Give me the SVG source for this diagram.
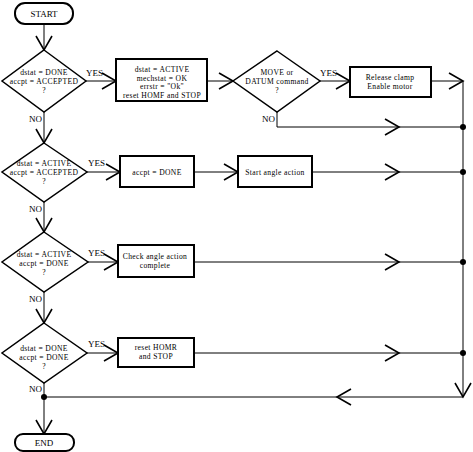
<svg xmlns="http://www.w3.org/2000/svg" width="473" height="452" viewBox="0 0 473 452">
<defs>
<style>
.t{font-family:"Liberation Serif","DejaVu Serif",serif;font-size:9px;fill:#000;text-anchor:middle}
.s{font-size:7.6px;letter-spacing:0.35px}
.l{font-family:"Liberation Serif","DejaVu Serif",serif;font-size:9px;fill:#000}
.box{fill:#fff;stroke:#000;stroke-width:2}
.dia{fill:#fff;stroke:#000;stroke-width:1.5}
.c{fill:none;stroke:#000;stroke-width:1}
.ah{fill:none;stroke:#000;stroke-width:1.6}
.dot{fill:#000}
</style>
<path id="ar" d="M-14,-8 L0,0 L-14,8"/>
</defs>
<rect width="473" height="452" fill="#fff"/>
<g id="connectors">
<path class="c" d="M44,24 V50"/>
<path class="c" d="M44,112 V143"/>
<path class="c" d="M44,202 V232"/>
<path class="c" d="M44,292 V323"/>
<path class="c" d="M44,383 V434"/>
<path class="c" d="M86,81 H116"/>
<path class="c" d="M207,81 H233"/>
<path class="c" d="M320,81 H350"/>
<path class="c" d="M431,81 H463 V397 H44"/>
<path class="c" d="M277,112 V127 H463"/>
<path class="c" d="M87,172 H120"/>
<path class="c" d="M194,172 H238"/>
<path class="c" d="M312,172 H463"/>
<path class="c" d="M88,262 H118"/>
<path class="c" d="M194,262 H463"/>
<path class="c" d="M87,353 H118"/>
<path class="c" d="M194,353 H463"/>
<g class="ah">
<use href="#ar" transform="translate(44,50) rotate(90)"/>
<use href="#ar" transform="translate(44,143) rotate(90)"/>
<use href="#ar" transform="translate(44,232) rotate(90)"/>
<use href="#ar" transform="translate(44,323) rotate(90)"/>
<use href="#ar" transform="translate(44,434) rotate(90)"/>
<use href="#ar" transform="translate(116,81)"/>
<use href="#ar" transform="translate(233,81)"/>
<use href="#ar" transform="translate(350,81)"/>
<use href="#ar" transform="translate(463,81)"/>
<use href="#ar" transform="translate(399,127)"/>
<use href="#ar" transform="translate(120,172)"/>
<use href="#ar" transform="translate(238,172)"/>
<use href="#ar" transform="translate(399,172)"/>
<use href="#ar" transform="translate(118,262)"/>
<use href="#ar" transform="translate(399,262)"/>
<use href="#ar" transform="translate(118,353)"/>
<use href="#ar" transform="translate(399,353)"/>
<use href="#ar" transform="translate(463,397) rotate(90)"/>
<use href="#ar" transform="translate(337,397) rotate(180)"/>
</g>
<circle class="dot" cx="463" cy="127" r="3"/>
<circle class="dot" cx="463" cy="172" r="3"/>
<circle class="dot" cx="463" cy="262" r="3"/>
<circle class="dot" cx="463" cy="353" r="3"/>
<circle class="dot" cx="44" cy="397" r="3"/>
<text class="l" x="86" y="76">YES</text>
<text class="l" x="320" y="76">YES</text>
<text class="l" x="88" y="166">YES</text>
<text class="l" x="88" y="256">YES</text>
<text class="l" x="88" y="347">YES</text>
<text class="l" x="29" y="122">NO</text>
<text class="l" x="262" y="122">NO</text>
<text class="l" x="29" y="212">NO</text>
<text class="l" x="29" y="302">NO</text>
<text class="l" x="29" y="392">NO</text>
</g>
<g id="start">
<rect class="box" x="15" y="3" width="58" height="21" rx="10"/>
<text class="t" x="44" y="17">START</text>
</g>
<g id="d1">
<polygon class="dia" points="44,50 86,81 44,112 2,81"/>
<text class="t s" x="44" y="75">dstat = DONE</text>
<text class="t s" x="44" y="84">accpt = ACCEPTED</text>
<text class="t s" x="44" y="93">?</text>
</g>
<g id="b1">
<rect class="box" x="116" y="59" width="91" height="42"/>
<text class="t s" x="162" y="72">dstat = ACTIVE</text>
<text class="t s" x="162" y="80.5">mechstat = OK</text>
<text class="t s" x="162" y="89">errstr = "Ok"</text>
<text class="t s" x="162" y="97.5">reset HOMF and STOP</text>
</g>
<g id="d2">
<polygon class="dia" points="277,51 320,81 277,112 233,81"/>
<text class="t s" x="277" y="75">MOVE or</text>
<text class="t s" x="277" y="84">DATUM command</text>
<text class="t s" x="277" y="93">?</text>
</g>
<g id="b2">
<rect class="box" x="350" y="67" width="81" height="30"/>
<text class="t s" x="390" y="80">Release clamp</text>
<text class="t s" x="390" y="89">Enable motor</text>
</g>
<g id="d3">
<polygon class="dia" points="44,143 87,172 44,202 2,172"/>
<text class="t s" x="44" y="166">dstat = ACTIVE</text>
<text class="t s" x="44" y="175">accpt = ACCEPTED</text>
<text class="t s" x="44" y="184">?</text>
</g>
<g id="b3">
<rect class="box" x="120" y="156" width="74" height="31"/>
<text class="t s" x="157" y="175">accpt = DONE</text>
</g>
<g id="b4">
<rect class="box" x="238" y="156" width="74" height="31"/>
<text class="t s" x="275" y="175">Start angle action</text>
</g>
<g id="d4">
<polygon class="dia" points="44,232 88,262 44,292 2,262"/>
<text class="t s" x="44" y="257">dstat = ACTIVE</text>
<text class="t s" x="44" y="266">accpt = DONE</text>
<text class="t s" x="44" y="275">?</text>
</g>
<g id="b5">
<rect class="box" x="118" y="245" width="76" height="32"/>
<text class="t s" x="155" y="259">Check angle action</text>
<text class="t s" x="155" y="268">complete</text>
</g>
<g id="d5">
<polygon class="dia" points="44,323 87,353 44,383 2,353"/>
<text class="t s" x="44" y="351">dstat = DONE</text>
<text class="t s" x="44" y="360">accpt = DONE</text>
<text class="t s" x="44" y="369">?</text>
</g>
<g id="b6">
<rect class="box" x="118" y="338" width="76" height="29"/>
<text class="t s" x="156" y="350">reset HOMR</text>
<text class="t s" x="156" y="359">and STOP</text>
</g>
<g id="end">
<rect class="box" x="15" y="434" width="59" height="17" rx="8"/>
<text class="t" x="44" y="446">END</text>
</g>
</svg>
